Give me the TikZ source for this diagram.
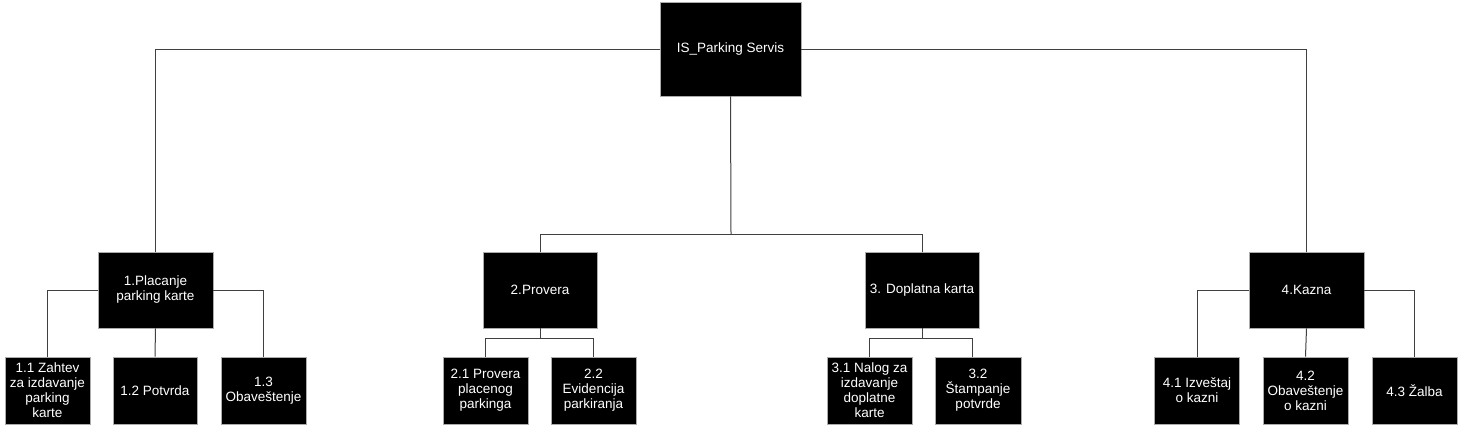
\documentclass[tikz,border=0pt]{standalone}
\usepackage{fontspec}
\setmainfont{Liberation Sans}
\begin{document}
\begin{tikzpicture}[x=1pt,y=-1pt,
  box/.style={draw=gray!65,line width=0.8pt,fill=black,text=white,inner sep=0pt,align=center,
    font=\fontsize{13.5}{15}\selectfont},
  rootbox/.style={box,minimum width=141pt,minimum height=94pt},
  midbox/.style={box,minimum width=115pt,minimum height=76pt},
  leafbox/.style={box,minimum width=85pt,minimum height=67pt},
  conn/.style={draw=black!75,line width=1pt}]
\fill[white] (0,0) rectangle (1462,429);
\useasboundingbox (0,0) rectangle (1462,429);

\node[rootbox] (root) at (730.5,49) {IS\_Parking Servis};

\node[midbox] (n1) at (155.5,290) {1.Placanje\\parking karte};
\node[midbox,minimum width=114pt] (n2) at (540,290) {2.Provera};
\node[midbox,minimum width=114pt] (n3) at (922,290) {3. Doplatna karta};
\node[midbox] (n4) at (1306.5,290) {4.Kazna};

\node[leafbox] (n11) at (47.5,390.5) {1.1 Zahtev\\za izdavanje\\parking\\karte};
\node[leafbox,minimum width=84pt] (n12) at (155,390.5) {1.2 Potvrda};
\node[leafbox] (n13) at (263.5,390.5) {1.3\\Obaveštenje};
\node[leafbox] (n21) at (485.5,390.5) {2.1 Provera\\placenog\\parkinga};
\node[leafbox] (n22) at (593.5,390.5) {2.2\\Evidencija\\parkiranja};
\node[leafbox] (n31) at (869.5,390.5) {3.1 Nalog za\\izdavanje\\doplatne\\karte};
\node[leafbox,minimum width=86pt] (n32) at (978,390.5) {3.2\\Štampanje\\potvrde};
\node[leafbox] (n41) at (1197,390.5) {4.1 Izveštaj\\o kazni};
\node[leafbox] (n42) at (1305.5,390.5) {4.2\\Obaveštenje\\o kazni};
\node[leafbox] (n43) at (1414.5,390.5) {4.3 Žalba};

% root connections
\coordinate (rb) at (731,234);
\draw[conn] (root.west) -| (n1.north);
\draw[conn] (root.east) -| (n4.north);
\draw[conn] (root.south) -- (rb);
\draw[conn] (rb) -| (n2.north);
\draw[conn] (rb) -| (n3.north);

% 1
\draw[conn] (n1.west) -| (n11.north);
\draw[conn] (n1.east) -| (n13.north);
\draw[conn] (n1.south) -- (n12.north);

% 2
\coordinate (b2) at (540,338);
\draw[conn] (n2.south) -- (b2);
\draw[conn] (b2) -| (n21.north);
\draw[conn] (b2) -| (n22.north);

% 3
\coordinate (b3) at (922,338);
\coordinate (t32) at ([xshift=-6pt]n32.north);
\draw[conn] (n3.south) -- (b3);
\draw[conn] (b3) -| (n31.north);
\draw[conn] (b3) -| (t32);

% 4
\draw[conn] (n4.west) -| (n41.north);
\draw[conn] (n4.east) -| (n43.north);
\draw[conn] (n4.south) -- (n42.north);
\end{tikzpicture}
\end{document}
